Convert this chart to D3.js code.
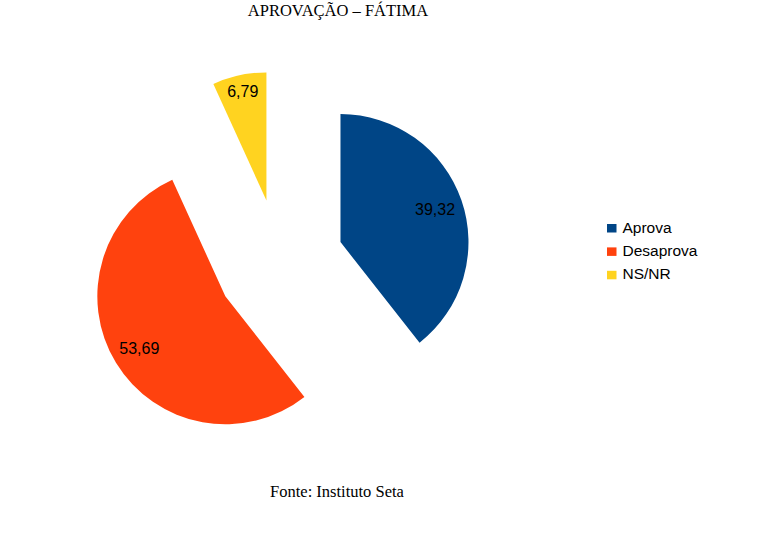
<!DOCTYPE html>
<html>
<head>
<meta charset="utf-8">
<script src="https://cdn.jsdelivr.net/npm/d3@7"></script>
<style>
  body { margin: 0; background: #fff; }
</style>
</head>
<body>
<svg id="chart" width="762" height="533"></svg>
<script>
const categories = ['Aprova', 'Desaprova', 'NS/NR']
const values = [39.32, 53.69, 6.79]
const labels = ['39,32', '53,69', '6,79']
const colors = ['#004586', '#ff420e', '#ffd320']

const svg = d3.select('#chart')
const serif = '"Liberation Serif", "Times New Roman", serif'
const sans = '"Liberation Sans", Arial, sans-serif'

// title + source
svg.append('text')
    .attr('x', 338).attr('y', 16)
    .attr('text-anchor', 'middle')
    .style('font-family', serif)
    .style('font-size', '16.5px')
    .text('APROVAÇÃO – FÁTIMA')

svg.append('text')
    .attr('x', 337).attr('y', 497)
    .attr('text-anchor', 'middle')
    .style('font-family', serif)
    .style('font-size', '16.5px')
    .text('Fonte: Instituto Seta')

// exploded pie
const cx = 280, cy = 263, r = 128, explode = 64
const color = d3.scaleOrdinal().domain(categories).range(colors)

const pie = d3.pie().sort(null).value(d => d.value)
const arcs = pie(categories.map((c, i) => ({ name: c, value: values[i], label: labels[i] })))
const arc = d3.arc().innerRadius(0).outerRadius(r)

const midAngle = d => (d.startAngle + d.endAngle) / 2
const offset = (d, dist) => {
    const a = midAngle(d)
    return [Math.sin(a) * dist, -Math.cos(a) * dist]
}

const pieG = svg.append('g').attr('transform', `translate(${cx},${cy})`)

const slices = pieG.selectAll('.slice').data(arcs).join('g')
    .attr('class', 'slice')
    .attr('transform', d => {
        const [ox, oy] = offset(d, explode)
        return `translate(${ox},${oy})`
    })

slices.append('path')
    .attr('d', arc)
    .attr('fill', d => color(d.data.name))

// labels sit inside the slice, their outer edge a few px from the rim
slices.append('text')
    .attr('text-anchor', 'middle')
    .attr('dy', '0.36em')
    .style('font-family', sans)
    .style('font-size', '16px')
    .text(d => d.data.label)
    .each(function (d) {
        const box = this.getBBox()
        const a = midAngle(d)
        const ext = box.width / 2 * Math.abs(Math.sin(a)) + 6 * Math.abs(Math.cos(a))
        const [x, y] = offset(d, r - 7 - ext)
        d3.select(this).attr('x', x).attr('y', y)
    })

// legend
const legend = svg.append('g').attr('transform', 'translate(607,224)')
const rows = legend.selectAll('.row').data(categories).join('g')
    .attr('class', 'row')
    .attr('transform', (d, i) => `translate(0,${i * 23.4})`)

rows.append('rect')
    .attr('width', 9.5).attr('height', 8.5)
    .attr('fill', d => color(d))

rows.append('text')
    .attr('x', 15.5).attr('y', 8.5)
    .style('font-family', sans)
    .style('font-size', '15.5px')
    .text(d => d)
</script>
</body>
</html>
